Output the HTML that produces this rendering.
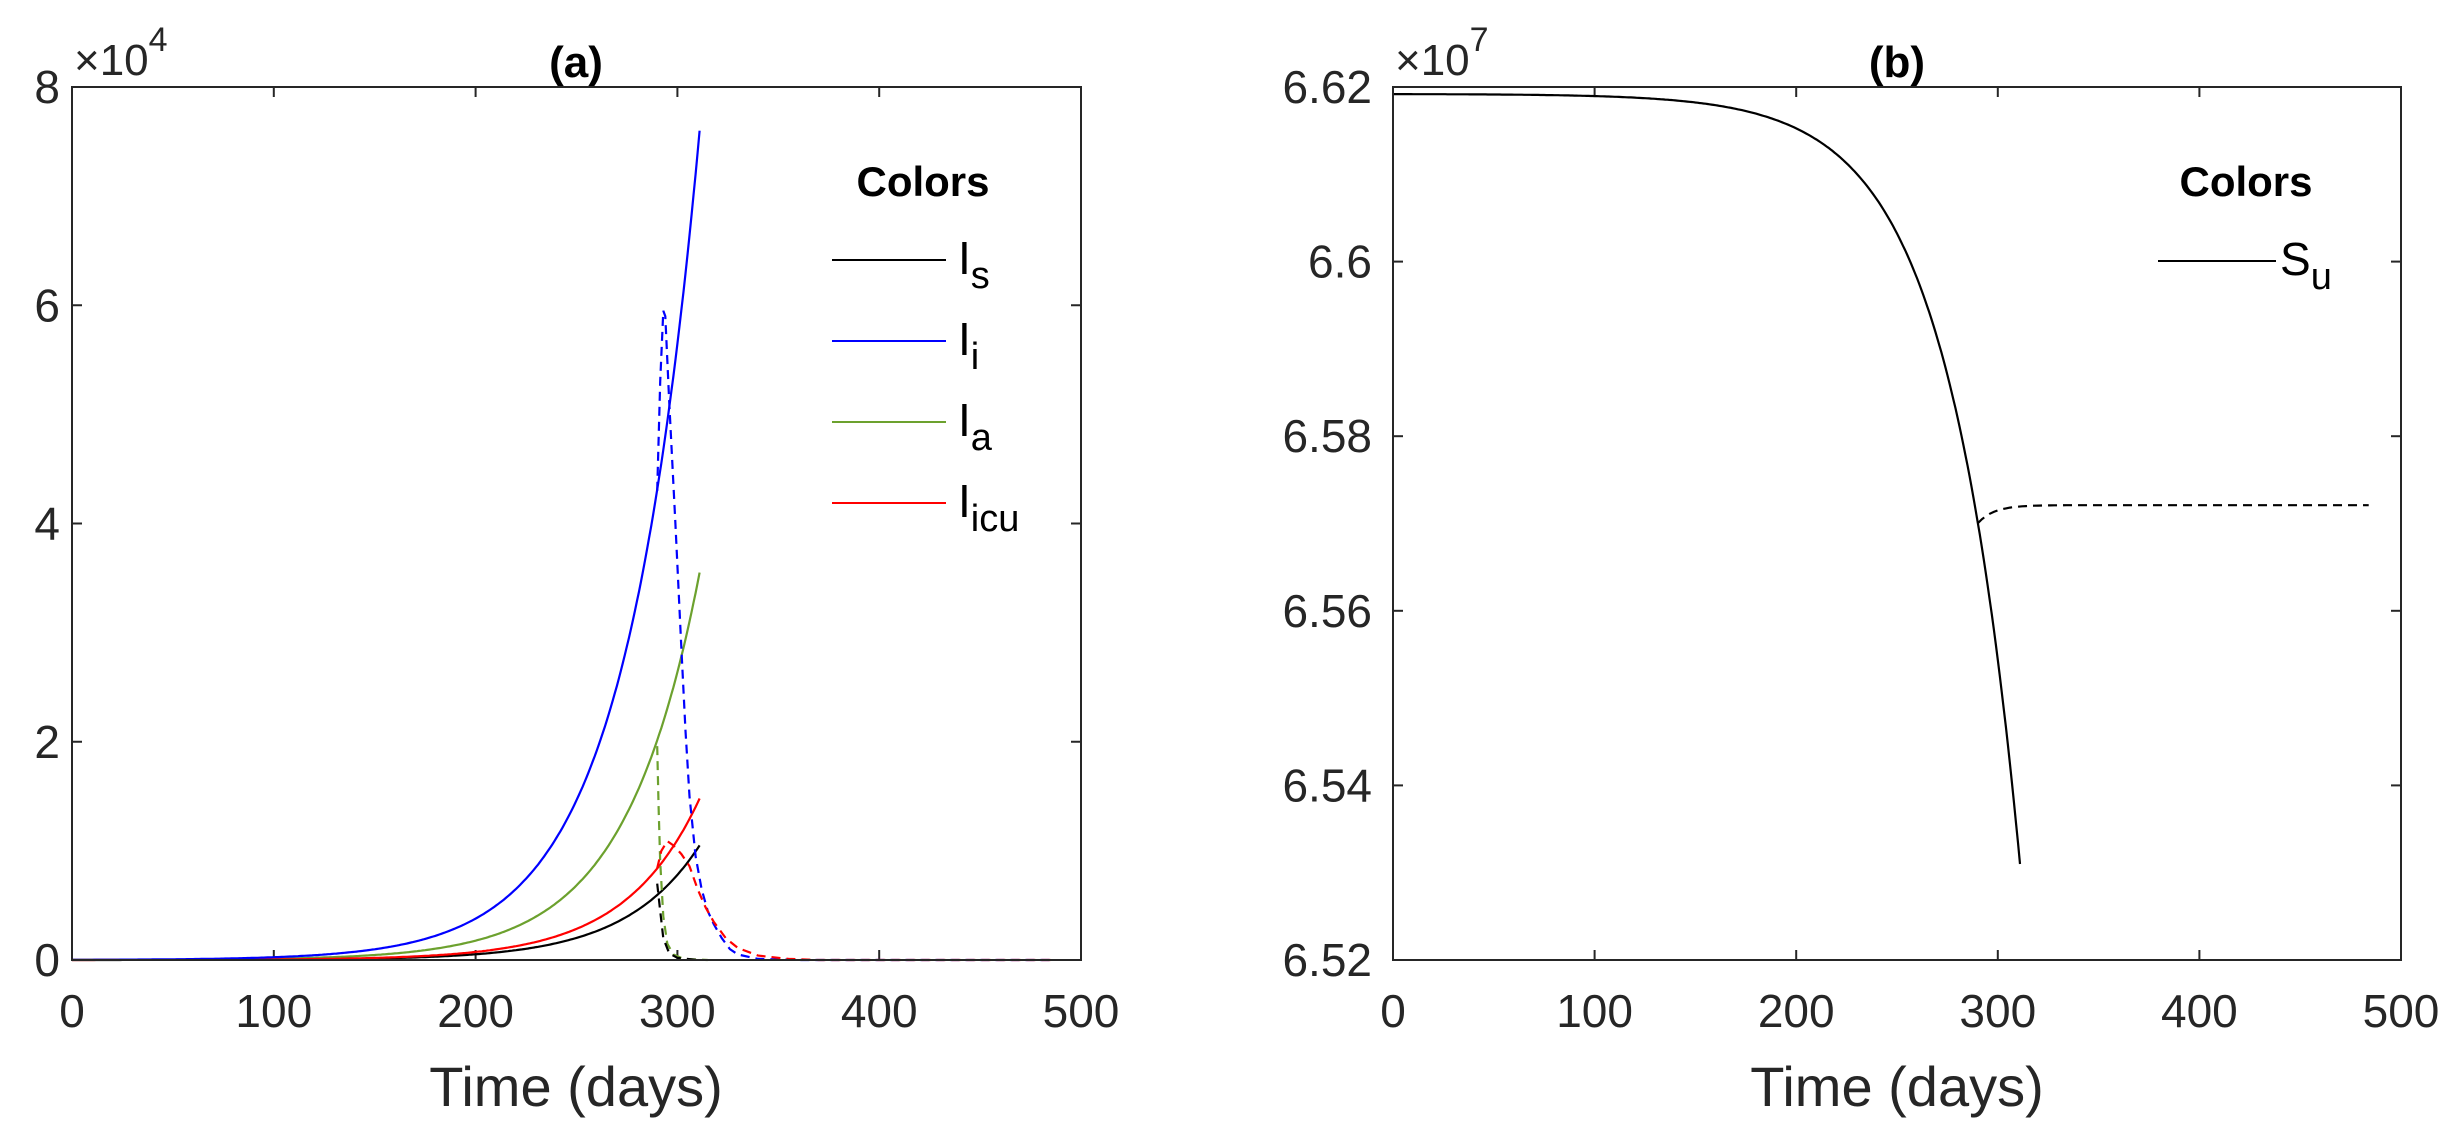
<!DOCTYPE html>
<html><head><meta charset="utf-8"><style>
html,body{margin:0;padding:0;background:#fff;}
svg{display:block;font-family:"Liberation Sans",Arial,sans-serif;}
</style></head><body>
<svg id="s" width="2450" height="1125" viewBox="0 0 2450 1125" xmlns="http://www.w3.org/2000/svg">
<rect width="2450" height="1125" fill="#fff"/>
<g id="g"></g>
<rect x="72" y="87" width="1009" height="873" fill="none" stroke="#262626" stroke-width="2"/>
<rect x="1393" y="87" width="1008" height="873" fill="none" stroke="#262626" stroke-width="2"/>
<g font-size="40" fill="#262626">
<text x="576" y="77" text-anchor="middle" font-weight="bold" font-size="44" fill="#000">(a)</text>
<text x="1897" y="77" text-anchor="middle" font-weight="bold" font-size="44" fill="#000">(b)</text>
<text x="74" y="75" font-size="44">×10<tspan dy="-24" font-size="34">4</tspan></text>
<text x="1395" y="75" font-size="44">×10<tspan dy="-24" font-size="34">7</tspan></text>
<text x="576" y="1106" text-anchor="middle" font-size="56">Time (days)</text>
<text x="1897" y="1106" text-anchor="middle" font-size="56">Time (days)</text>
</g>
<g font-size="46" fill="#000">
<text x="923" y="196" text-anchor="middle" font-weight="bold" font-size="42">Colors</text>
<line x1="832" y1="260" x2="946" y2="260" stroke="#000" stroke-width="2"/>
<line x1="832" y1="341" x2="946" y2="341" stroke="#0000ff" stroke-width="2"/>
<line x1="832" y1="422" x2="946" y2="422" stroke="#6ca12e" stroke-width="2"/>
<line x1="832" y1="503" x2="946" y2="503" stroke="#ff0000" stroke-width="2"/>
<text x="958" y="274">I<tspan dy="14" font-size="38">s</tspan></text>
<text x="958" y="355">I<tspan dy="14" font-size="38">i</tspan></text>
<text x="958" y="436">I<tspan dy="14" font-size="38">a</tspan></text>
<text x="958" y="517">I<tspan dy="14" font-size="38">icu</tspan></text>
<text x="2246" y="196" text-anchor="middle" font-weight="bold" font-size="42">Colors</text>
<line x1="2158" y1="261" x2="2276" y2="261" stroke="#000" stroke-width="2"/>
<text x="2280" y="275">S<tspan dy="14" font-size="38">u</tspan></text>
</g>
</svg>
<script>
var NS="http://www.w3.org/2000/svg",g=document.getElementById("g");
function el(n,a,t){var e=document.createElementNS(NS,n);for(var k in a)e.setAttribute(k,a[k]);if(t!=null)e.textContent=t;g.appendChild(e);return e;}
var Xa=function(t){return 72+t*2.018},Ya=function(v){return 960-v*109.125};
var Xb=function(t){return 1393+t*2.016},Yb=function(s){return 87+(6.62-s)/0.1*873};
for(var i=0;i<=5;i++){var x=Xa(i*100);el("line",{x1:x,y1:960,x2:x,y2:950,stroke:"#262626","stroke-width":2});el("line",{x1:x,y1:87,x2:x,y2:97,stroke:"#262626","stroke-width":2});
el("text",{x:x,y:1027,"text-anchor":"middle","font-size":46,fill:"#262626"},i*100);
var xb=Xb(i*100);el("line",{x1:xb,y1:960,x2:xb,y2:950,stroke:"#262626","stroke-width":2});el("line",{x1:xb,y1:87,x2:xb,y2:97,stroke:"#262626","stroke-width":2});
el("text",{x:xb,y:1027,"text-anchor":"middle","font-size":46,fill:"#262626"},i*100);}
for(var i=0;i<=4;i++){var y=Ya(i*2);el("line",{x1:72,y1:y,x2:82,y2:y,stroke:"#262626","stroke-width":2});el("line",{x1:1081,y1:y,x2:1071,y2:y,stroke:"#262626","stroke-width":2});
el("text",{x:60,y:y+16,"text-anchor":"end","font-size":46,fill:"#262626"},i*2);}
var lb=["6.52","6.54","6.56","6.58","6.6","6.62"];
for(var i=0;i<=5;i++){var y=Yb(6.52+i*0.02);el("line",{x1:1393,y1:y,x2:1403,y2:y,stroke:"#262626","stroke-width":2});el("line",{x1:2401,y1:y,x2:2391,y2:y,stroke:"#262626","stroke-width":2});
el("text",{x:1372,y:y+16,"text-anchor":"end","font-size":46,fill:"#262626"},lb[i]);}
function path(pts,X,Y,c,dash){var d="";pts.forEach(function(p,i){d+=(i?"L":"M")+X(p[0]).toFixed(1)+","+Y(p[1]).toFixed(1)});var a={d:d,fill:"none",stroke:c,"stroke-width":2.2};if(dash)a["stroke-dasharray"]="9,6";el("path",a);}
function expc(A,r){var p=[];for(var t=0;t<=311;t+=1)p.push([t,A*Math.exp(r*(t-311))]);return p;}
path(expc(1.05,0.027),Xa,Ya,"#000");
path(expc(3.55,0.027),Xa,Ya,"#6ca12e");
path(expc(1.48,0.027),Xa,Ya,"#ff0000");
path(expc(7.6,0.027),Xa,Ya,"#0000ff");
path([[290,4.3],[291.5,5.3],[293,5.95],[294,5.9],[296,5.1],[299,4.0],[302,2.85],[304,2.1],[306,1.5],[309,0.95],[312,0.65],[315,0.45],[318,0.33],[322,0.2],[326,0.1],[330,0.05],[340,0.01],[360,0],[485,0]],Xa,Ya,"#0000ff",1);
path([[290,1.96],[290.7,1.4],[291.5,0.9],[293,0.4],[295,0.15],[298,0.05],[303,0.01],[315,0]],Xa,Ya,"#6ca12e",1);
path([[290,0.84],[292,1.0],[295,1.09],[298,1.05],[302,0.97],[306,0.86],[310,0.65],[314,0.48],[318,0.35],[324,0.2],[330,0.11],[340,0.04],[355,0.01],[370,0],[485,0]],Xa,Ya,"#ff0000",1);
path([[290,0.7],[291.5,0.45],[293,0.2],[296,0.06],[300,0.02],[310,0]],Xa,Ya,"#000",1);
var pb=[];for(var t=0;t<=311;t+=1)pb.push([t,6.6192-0.0882*Math.exp(0.028*(t-311))]);
path(pb,Xb,Yb,"#000");
var pd=[];for(var t=290;t<=485;t+=2)pd.push([t,6.5721-0.0021*Math.exp(-(t-290)/8)]);
path(pd,Xb,Yb,"#000",1);
</script>
</body></html>
